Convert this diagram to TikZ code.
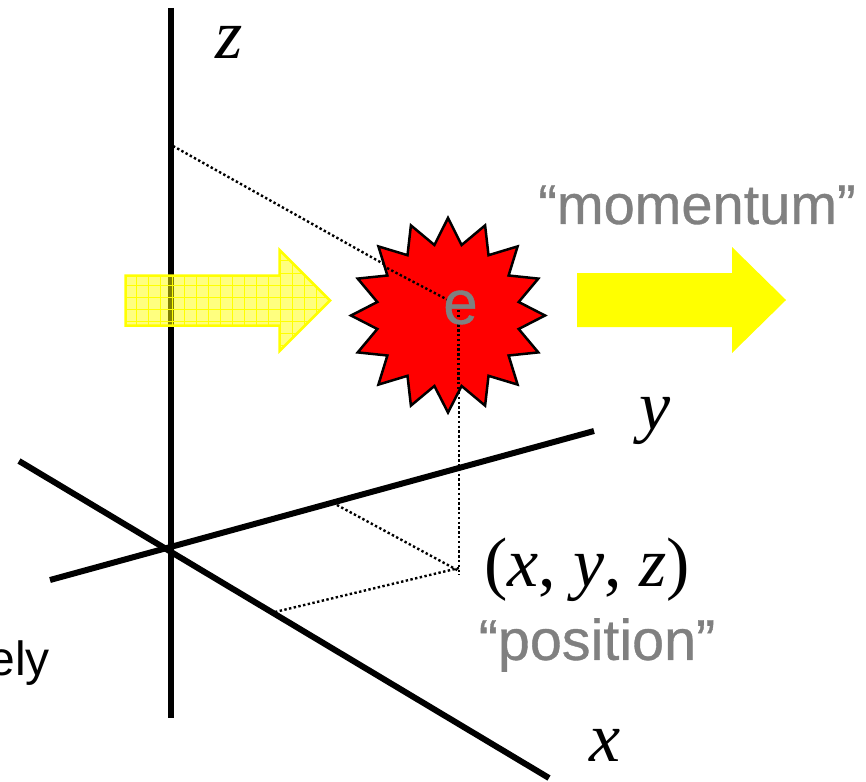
\documentclass[tikz,border=0pt]{standalone}
\usepackage{fontspec}
\setmainfont{Liberation Sans}
\newfontfamily\mathserif{Liberation Serif}
\newfontfamily\heavysans[FakeBold=0.6]{Liberation Sans}
\definecolor{labelgrey}{RGB}{128,128,128}
\definecolor{clipred}{RGB}{255,60,0}
\definecolor{pureyellow}{RGB}{255,255,0}
\definecolor{purered}{RGB}{255,0,0}
\tikzset{
  axisline/.style={line width=6pt,black},
  dotline/.style={line width=2.4pt,black,dash pattern=on 2.4pt off 2.4pt},
  lbl/.style={inner sep=0pt,outer sep=0pt},
  serifit/.style={lbl,font=\mathserif\itshape\fontsize{70}{70}\selectfont},
  greytext/.style={lbl,text=labelgrey},
}
\begin{document}
\begin{tikzpicture}[x=1pt,y=-1pt]
\useasboundingbox (0,0) rectangle (866,781);
\clip (0,0) rectangle (866,781);
% coordinates
\coordinate (zt) at (171,8); \coordinate (zb) at (171,718);
\coordinate (ys) at (50,580); \coordinate (ye) at (594,431);
\coordinate (xs) at (19,461); \coordinate (xe) at (549,778);
\coordinate (zp) at (173,146); \coordinate (ec) at (448,300);
\coordinate (et) at (459,320); \coordinate (ft) at (459,575);
\coordinate (yp) at (337,505); \coordinate (fy) at (459,571);
\coordinate (xp) at (275,612); \coordinate (fx) at (459,568);
% axes
\draw[axisline] (zt) -- (zb);
\draw[axisline] (ys) -- (ye);
\draw[axisline] (xs) -- (xe);
% dotted
\draw[dotline] (zp) -- (ec);
\draw[dotline] (et) -- (ft);
\draw[dotline] (yp) -- (fy);
\draw[dotline] (xp) -- (fx);
% left arrow
\begin{scope}
\path[clip] (125.5,275.5) -- (279.5,275.5) -- (279.5,250) -- (330,300.5) -- (279.5,351) -- (279.5,325.5) -- (125.5,325.5) -- cycle;
\fill[pureyellow,opacity=.5] (120,245) rectangle (335,355);
\foreach \gx in {136,148,160,172,184,196,208,220,232,244,256,268,280,292,304,316}
  \draw[pureyellow,line width=1pt] (\gx,245) -- (\gx,355);
\foreach \gy in {260,273,285,297,309,321,333,345}
  \draw[pureyellow,line width=1pt] (120,\gy) -- (335,\gy);
\end{scope}
\draw[pureyellow,line width=2.5pt] (125.5,275.5) -- (279.5,275.5) -- (279.5,250) -- (330,300.5) -- (279.5,351) -- (279.5,325.5) -- (125.5,325.5) -- cycle;
% right arrow
\fill[pureyellow] (577,273) -- (732,273) -- (732,247) -- (786,300) -- (732,353) -- (732,327) -- (577,327) -- cycle;
% star
\draw[fill=purered,draw=black,line width=2.5pt,miter limit=10]
  (448,218) -- (461.6,245) -- (485.1,225.4) -- (488.5,255.2) -- (517.6,246.4) -- (508.6,275.5)
  -- (538.3,278.6) -- (518.7,302) -- (545,315.5) -- (518.7,329) -- (538.3,352.4) -- (508.6,355.5)
  -- (517.6,384.6) -- (488.5,375.8) -- (485.1,405.6) -- (461.6,386) -- (448,412.5) -- (434.4,386)
  -- (410.9,405.6) -- (407.5,375.8) -- (378.4,384.6) -- (387.4,355.5) -- (357.7,352.4) -- (377.3,329)
  -- (351,315.5) -- (377.3,302) -- (357.7,278.6) -- (387.4,275.5) -- (378.4,246.4) -- (407.5,255.2)
  -- (410.9,225.4) -- (434.4,245) -- cycle;
\draw[dotline] (387,268) -- (ec);
\draw[dotline] (458.5,310) -- (458.5,392);
% labels
\node[lbl,text=labelgrey,font=\heavysans\fontsize{62}{62}\selectfont] (elabel) at (460.5,307.5) {e};
\node[greytext,font=\heavysans\fontsize{56}{56}\selectfont] (mom) at (697,205) {“momentum”};
\node[greytext,font=\heavysans\fontsize{57.5}{57.5}\selectfont] (pos) at (597,645) {“position”};
\node[serifit] (zl) at (229,42) {z};
\node[serifit] (yl) at (655,421) {y};
\node[serifit] (xl) at (605,745) {x};
\node[lbl,font=\mathserif\fontsize{70}{70}\selectfont] (pt) at (587,570) {(\textit{x}, \textit{y}, \textit{z})};
\node[lbl,anchor=base east,font=\fontsize{48}{48}\selectfont] (ely) at (50,675) {ely};
\node[lbl,anchor=base east,text=clipred,font=\fontsize{48}{48}\selectfont] (sclip) at (2,139) {s};
\end{tikzpicture}
\end{document}
